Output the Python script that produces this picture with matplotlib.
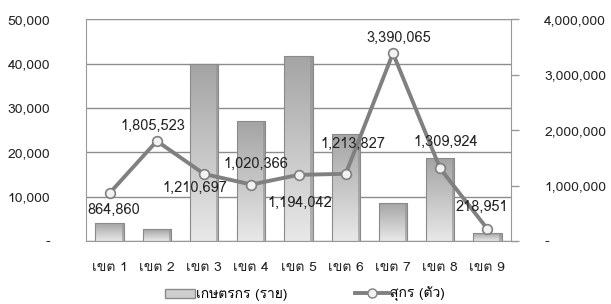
import matplotlib
matplotlib.use("Agg")
import matplotlib.pyplot as plt
import numpy as np
from matplotlib.ticker import FuncFormatter
from matplotlib.colors import LinearSegmentedColormap
from matplotlib.patches import Patch
from matplotlib.lines import Line2D

plt.rcParams['font.family'] = ['Loma', 'DejaVu Sans']

# data
zones = ['เขต 1', 'เขต 2', 'เขต 3', 'เขต 4', 'เขต 5', 'เขต 6', 'เขต 7', 'เขต 8', 'เขต 9']
farmers = [4000, 2700, 39900, 27000, 41800, 24200, 8600, 18700, 1800]
pigs = [864860, 1805523, 1210697, 1020366, 1194042, 1213827, 3390065, 1309924, 218951]

# label offsets from each point, in pixels (dx, dy)
label_off = [(4.5, -17), (-4, 15), (-9.5, -14), (4.5, 21), (1.5, -28),
             (7, 30), (5.5, 15), (5.5, 27), (-6, 22)]

def fmt(v, pos=None):
    return '-' if v == 0 else f'{int(v):,}'

fig = plt.figure(figsize=(6.11, 3.04), dpi=100)
ax = fig.add_axes([0.1408, 0.2072, 0.6955, 0.7287])
ax2 = ax.twinx()

x = np.arange(len(zones))

# bars with vertical gradient
cmap = LinearSegmentedColormap.from_list('g', ['#e8e8e8', '#a4a4a4'])
grad = np.linspace(0, 1, 100).reshape(-1, 1)
bars = ax.bar(x, farmers, width=0.6, color='none', edgecolor='#8a8a8a',
              linewidth=0.8, zorder=3)
for b in bars:
    bx, by = b.get_x(), b.get_y()
    bw, bh = b.get_width(), b.get_height()
    im = ax.imshow(grad, cmap=cmap, origin='lower', aspect='auto',
                   extent=[bx, bx + bw, by, by + bh], zorder=2)
    im.set_clip_path(b)
    # darker right bevel
    ax.bar(bx + bw * 0.92, bh, width=bw * 0.08, align='edge',
           color='#8f8f8f', alpha=0.6, zorder=2.5, linewidth=0)
ax.set_xlim(-0.5, len(zones) - 0.5)
ax.set_ylim(0, 50000)
ax2.set_ylim(0, 4000000)

# grid / left axis
ax.set_yticks(np.arange(0, 50001, 10000))
ax.yaxis.grid(True, color='#8c8c8c', linewidth=1)
ax.set_axisbelow(True)
ax.yaxis.set_major_formatter(FuncFormatter(fmt))
ax.tick_params(axis='y', length=0, pad=26, labelsize=10, labelcolor='#222222')
ax.set_xticks(x)
ax.set_xticklabels(zones)
ax.tick_params(axis='x', length=0, pad=15, labelsize=10, labelcolor='#222222')
for s in ['left', 'top', 'bottom']:
    ax.spines[s].set_color('#999999')
ax.spines['right'].set_visible(False)

# line on right axis
ax2.plot(x, pigs, color='#808080', linewidth=2.8, marker='o', markersize=7,
         markerfacecolor='#f2f2f2', markeredgecolor='#808080',
         markeredgewidth=1.2, zorder=4)
ax2.set_yticks(np.arange(0, 4000001, 1000000))
ax2.yaxis.set_major_formatter(FuncFormatter(fmt))
ax2.tick_params(axis='y', length=6, width=1, color='#999999', pad=18,
                labelsize=10, labelcolor='#222222')
ax2.spines['right'].set_color('#999999')
for s in ['left', 'top', 'bottom']:
    ax2.spines[s].set_visible(False)

for xi, v, (dx, dy) in zip(x, pigs, label_off):
    ax2.annotate(f'{v:,}', (xi, v), xytext=(dx * 0.72, dy * 0.72),
                 textcoords='offset points', ha='center', va='center',
                 fontsize=10.5, color='#222222', zorder=5)

# legend, two separate entries
leg1 = fig.legend(handles=[Patch(facecolor='#cfcfcf', edgecolor='#8a8a8a',
                                 label='เกษตรกร (ราย)')],
                  loc='center left', bbox_to_anchor=(165 / 611, 0.03),
                  frameon=False, fontsize=10, handlelength=2.15,
                  handletextpad=0.05, borderpad=0, borderaxespad=0)
leg2 = fig.legend(handles=[Line2D([0], [0], color='#808080', linewidth=2.8,
                                  marker='o', markersize=6.5,
                                  markerfacecolor='#f2f2f2',
                                  markeredgecolor='#808080', label='สุกร (ตัว)')],
                  loc='center left', bbox_to_anchor=(355 / 611, 0.03),
                  frameon=False, fontsize=10, handlelength=2.5,
                  handletextpad=0.05, borderpad=0, borderaxespad=0)

fig.savefig('out.png', dpi=100)
